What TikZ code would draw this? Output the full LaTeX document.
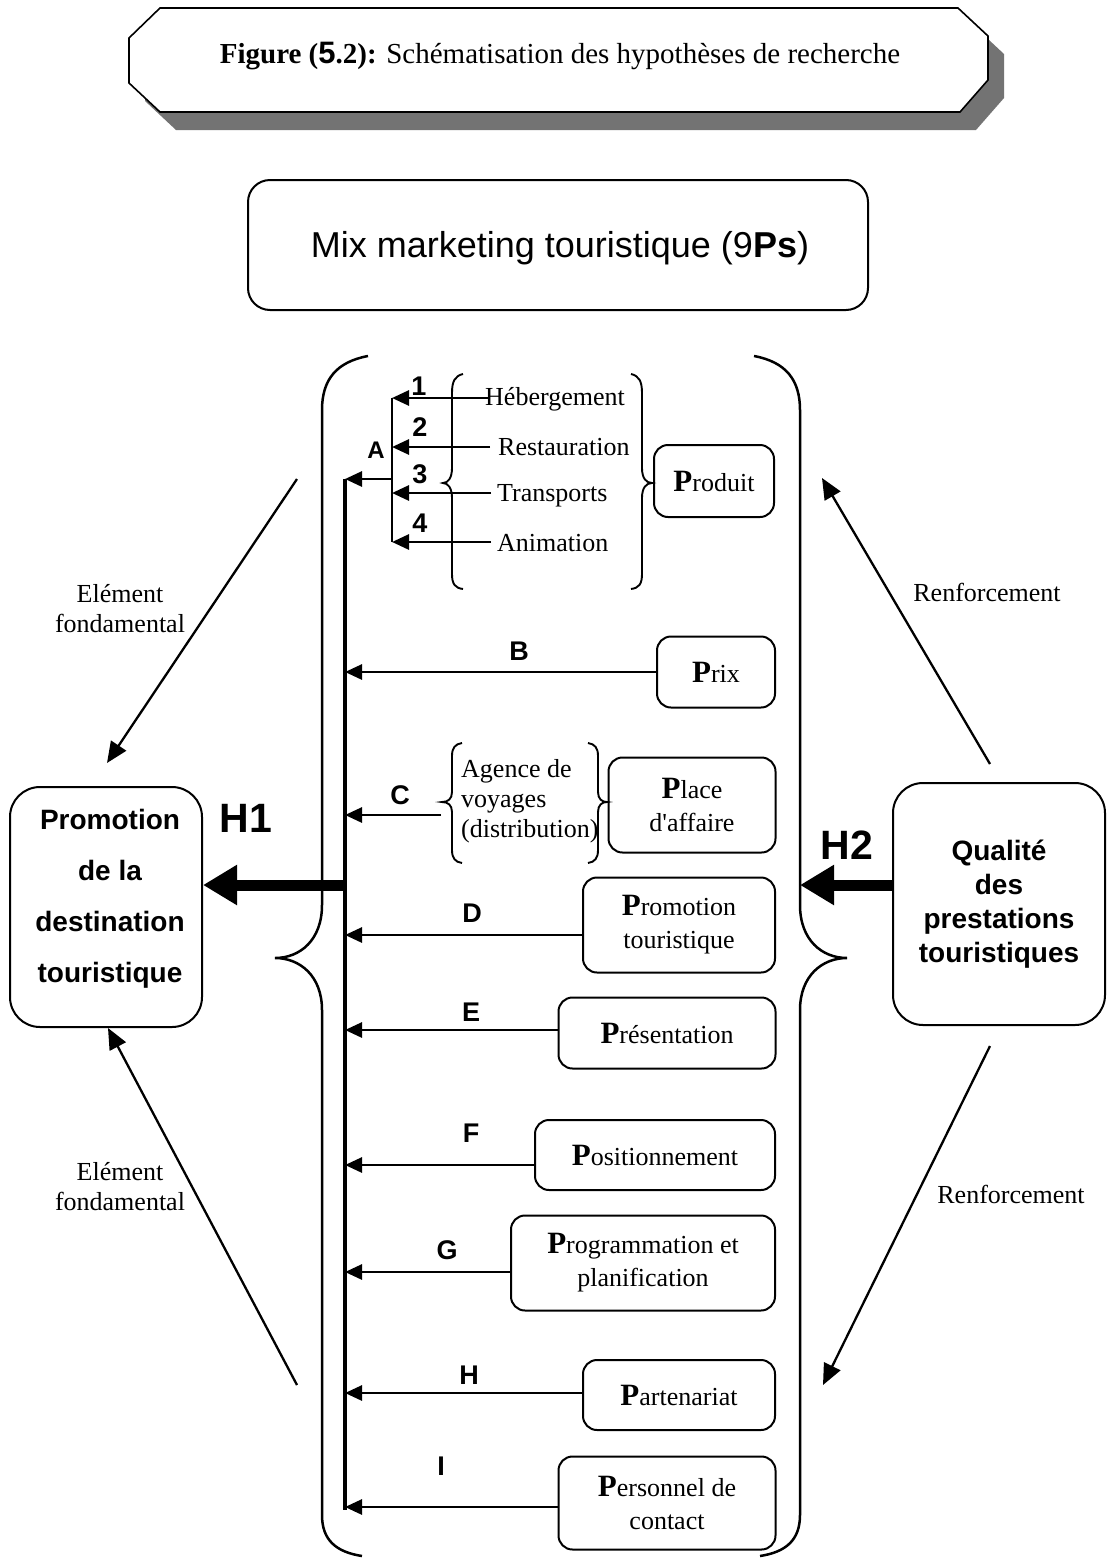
\documentclass[tikz,border=0pt]{standalone}
\usepackage{fontspec}
\setmainfont{Liberation Serif}
\setsansfont{Liberation Sans}
\usetikzlibrary{arrows.meta}

\newcommand\fsz[2]{\fontsize{#1}{#2}\selectfont}
\newcommand\bigP[1]{{\fontsize{31}{31}\selectfont\bfseries #1}}
% straight apostrophe, bypassing the TeX ligature mapping
\newcommand\apos{\XeTeXglyph\XeTeXcharglyph"0027\relax}

\begin{document}
\begin{tikzpicture}[x=1pt,y=-1pt,
  pbox/.style={draw, line width=2pt, rounded corners=14pt, inner sep=0pt,
    align=center, font=\fsz{26}{33}},
  txt/.style={inner sep=0pt, font=\fsz{26}{30}},
  tag/.style={inner sep=0pt, font=\sffamily\bfseries\fsz{27}{27}},
  hyp/.style={inner sep=0pt, font=\sffamily\bfseries\fsz{41}{41}},
  arr/.style={line width=2.8pt, -{Triangle[length=17pt,width=15pt]}},
  diag/.style={line width=2.3pt, -{Triangle[length=21pt,width=18pt]}},
  thick arr/.style={line width=11pt, -{Triangle[length=34pt,width=38pt]}},
  brace/.style={line width=1.9pt},
  bigbrace/.style={line width=2.5pt},
]
\useasboundingbox (0,0) rectangle (1108,1558);

% ---- title plate with its shadow ----
\fill[black!55, shift={(16,18)}]
  (160,8) -- (958,8) -- (988,36) -- (988,80) -- (960,112) -- (160,112)
  -- (129,83) -- (129,38) -- cycle;
\filldraw[fill=white, draw=black, line width=1.6pt]
  (160,8) -- (958,8) -- (988,36) -- (988,80) -- (960,112) -- (160,112)
  -- (129,83) -- (129,38) -- cycle;
\node[inner sep=0pt, font=\fsz{29}{29}] (title) at (560,56)
  {\textbf{Figure (}{\sffamily\bfseries\fsz{31}{31}5}\textbf{.2):} Schématisation des hypothèses de recherche};

% ---- header box ----
\node[draw, line width=2pt, rounded corners=22pt, minimum width=620pt,
  minimum height=130pt, inner sep=0pt] (mix) at (558,245) {};
\node[inner sep=0pt, font=\sffamily\fsz{36}{36}] (mixtxt) at (560,248)
  {Mix marketing touristique (9\textbf{Ps})};

% ---- large braces enclosing the 9 Ps ----
\draw[bigbrace] (368,356) .. controls (336,362) and (322,380) .. (322,410)
  -- (322,905) .. controls (322,940) and (300,958) .. (275,958)
  .. controls (300,958) and (322,976) .. (322,1010)
  -- (322,1515) .. controls (322,1540) and (336,1552) .. (362,1556);
\draw[bigbrace] (754,356) .. controls (786,362) and (800,380) .. (800,410)
  -- (800,905) .. controls (800,940) and (822,958) .. (847,958)
  .. controls (822,958) and (800,976) .. (800,1010)
  -- (800,1515) .. controls (800,1540) and (786,1552) .. (760,1556);

% ---- the two end boxes ----
\node[draw, line width=2pt, rounded corners=30pt, minimum width=192pt,
  minimum height=240pt, inner sep=0pt] (dest) at (106,907) {};
\node[inner sep=0pt, align=center, font=\sffamily\bfseries\fsz{28}{51}]
  (desttxt) at (110,899) {Promotion\\de la\\destination\\touristique};
\node[draw, line width=2pt, rounded corners=30pt, minimum width=212pt,
  minimum height=242pt, inner sep=0pt, align=center,
  font=\sffamily\bfseries\fsz{28}{34}] (qual) at (999,904)
  {Qualité\\des\\prestations\\touristiques};

% ---- product block ----
\node[txt, anchor=west] (heb) at (485,399) {Hébergement};
\node[txt, anchor=west] (res) at (498,447) {Restauration};
\node[txt, anchor=west] (tra) at (497,496) {Transports};
\node[txt, anchor=west] (ani) at (497,543) {Animation};
\draw[brace] (463,374) .. controls (455,376) and (452,381) .. (452,393)
  -- (452,468) .. controls (452,478) and (448,483) .. (443,483)
  .. controls (448,483) and (452,488) .. (452,498)
  -- (452,574) .. controls (452,584) and (455,588) .. (463,589);
\draw[brace] (631,374) .. controls (639,376) and (642,381) .. (642,393)
  -- (642,468) .. controls (642,478) and (646,483) .. (652,483)
  .. controls (646,483) and (642,488) .. (642,498)
  -- (642,574) .. controls (642,584) and (639,588) .. (631,589);
\node[pbox, minimum width=120pt, minimum height=72pt] (produit) at (714,481)
  {\bigP{P}roduit};

\coordinate (a1) at (392,398);
\coordinate (a2) at (392,447);
\coordinate (a3) at (392,493);
\coordinate (a4) at (392,542);
\coordinate (aout) at (392,479);
\coordinate (s1) at (490,398);
\coordinate (s2) at (490,447);
\coordinate (s3) at (491,493);
\coordinate (s4) at (491,542);
\draw[line width=2.6pt] (a1) -- (a4);
\draw[arr] (s1) -- (a1);
\draw[arr] (s2) -- (a2);
\draw[arr] (s3) -- (a3);
\draw[arr] (s4) -- (a4);
\node[tag] (n1) at (419,386) {1};
\node[tag] (n2) at (420,427) {2};
\node[tag] (n3) at (420,474) {3};
\node[tag] (n4) at (420,523) {4};
\node[tag, font=\sffamily\bfseries\fsz{24}{24}] (la) at (376,450) {A};

% ---- bus collecting the Ps ----
\coordinate (busTop) at (345,479);
\coordinate (busBot) at (345,1510);
\draw[line width=3.2pt] (busTop) -- (busBot);
\draw[arr] (aout) -- (busTop);

% ---- remaining Ps ----
\node[pbox, minimum width=118pt, minimum height=71pt] (prix) at (716,672)
  {\bigP{P}rix};
\node[txt, anchor=west, align=left] (agence) at (461,801)
  {Agence de\\voyages\\(distribution)};
\draw[brace] (462,743) .. controls (455,744) and (452,748) .. (452,756)
  -- (452,792) .. controls (452,799) and (448,802) .. (442,802)
  .. controls (448,802) and (452,805) .. (452,812)
  -- (452,850) .. controls (452,858) and (455,862) .. (462,863);
\draw[brace] (588,743) .. controls (595,744) and (598,748) .. (598,756)
  -- (598,792) .. controls (598,799) and (602,802) .. (607,802)
  .. controls (602,802) and (598,805) .. (598,812)
  -- (598,850) .. controls (598,858) and (595,862) .. (588,863);
\node[pbox, minimum width=167pt, minimum height=95pt] (place) at (692,805)
  {\bigP{P}lace\\d\apos affaire};
\node[pbox, minimum width=192pt, minimum height=95pt] (promo) at (679,925)
  {\bigP{P}romotion\\touristique};
\node[pbox, minimum width=217pt, minimum height=71pt] (pres) at (667,1033)
  {\bigP{P}résentation};
\node[pbox, minimum width=240pt, minimum height=70pt] (posi) at (655,1155)
  {\bigP{P}ositionnement};
\node[pbox, minimum width=264pt, minimum height=95pt] (prog) at (643,1263)
  {\bigP{P}rogrammation et\\planification};
\node[pbox, minimum width=192pt, minimum height=70pt] (part) at (679,1395)
  {\bigP{P}artenariat};
\node[pbox, minimum width=217pt, minimum height=93pt] (pers) at (667,1503)
  {\bigP{P}ersonnel de\\contact};

\coordinate (busB) at (345,672);
\coordinate (busC) at (345,815);
\coordinate (busD) at (345,935);
\coordinate (busE) at (345,1030);
\coordinate (busF) at (345,1165);
\coordinate (busG) at (345,1272);
\coordinate (busH) at (345,1393);
\coordinate (busI) at (345,1507);
\coordinate (sC) at (441,815);
\draw[arr] (prix.west |- busB) -- (busB);
\draw[arr] (sC) -- (busC);
\draw[arr] (promo.west |- busD) -- (busD);
\draw[arr] (pres.west |- busE) -- (busE);
\draw[arr] (posi.west |- busF) -- (busF);
\draw[arr] (prog.west |- busG) -- (busG);
\draw[arr] (part.west |- busH) -- (busH);
\draw[arr] (pers.west |- busI) -- (busI);

\node[tag] (lb) at (519,651) {B};
\node[tag] (lc) at (400,795) {C};
\node[tag] (ld) at (472,913) {D};
\node[tag] (le) at (471,1012) {E};
\node[tag] (lf) at (471,1133) {F};
\node[tag] (lg) at (447,1250) {G};
\node[tag] (lh) at (469,1375) {H};
\node[tag] (li) at (441,1466) {I};

% ---- hypotheses H1 and H2 ----
\coordinate (busH1) at (345,885);
\coordinate (braceH2) at (800,885);
\draw[thick arr] (busH1) -- (dest.east |- busH1);
\draw[thick arr] (qual.west |- braceH2) -- (braceH2);
\node[hyp] (h1) at (246,818) {H1};
\node[hyp] (h2) at (847,845) {H2};

% ---- side relations ----
\coordinate (lt1) at (297,479);
\coordinate (lt2) at (107,763);
\coordinate (lb1) at (297,1385);
\coordinate (lb2) at (108,1028);
\coordinate (rt1) at (990,764);
\coordinate (rt2) at (822,478);
\coordinate (rb1) at (990,1046);
\coordinate (rb2) at (823,1385);
\draw[diag] (lt1) -- (lt2);
\draw[diag] (lb1) -- (lb2);
\draw[diag] (rt1) -- (rt2);
\draw[diag] (rb1) -- (rb2);
\node[txt, align=center, font=\fsz{26}{30}] (ef1) at (120,609) {Elément\\fondamental};
\node[txt, align=center, font=\fsz{26}{30}] (ef2) at (120,1187) {Elément\\fondamental};
\node[txt, font=\fsz{26}{30}] (rf1) at (987,592) {Renforcement};
\node[txt, font=\fsz{26}{30}] (rf2) at (1011,1194) {Renforcement};
\end{tikzpicture}
\end{document}
